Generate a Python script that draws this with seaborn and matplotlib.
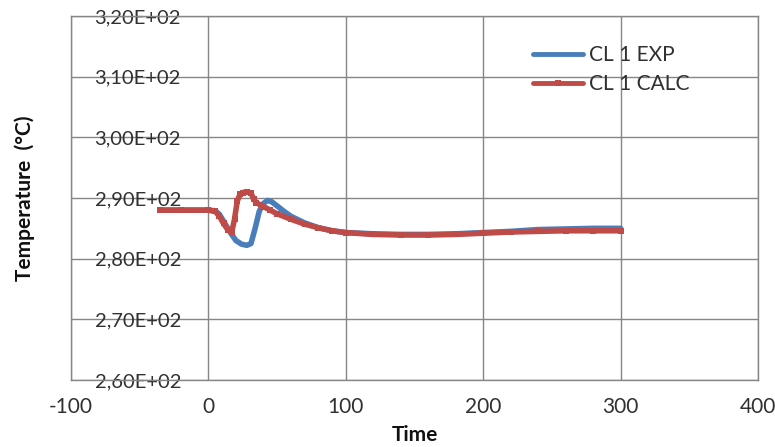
import matplotlib
matplotlib.use("Agg")
import matplotlib.pyplot as plt
import seaborn as sns
import pandas as pd
from matplotlib.ticker import FuncFormatter, MultipleLocator
from matplotlib.lines import Line2D

exp_t = [-35, -20, 0, 5, 8, 12, 16, 20, 24, 28, 31, 34, 37, 40, 43, 46, 50, 55, 60,
         70, 80, 90, 100, 120, 140, 160, 180, 200, 220, 240, 260, 280, 300]
exp_v = [288.0, 288.0, 288.0, 287.9, 287.3, 285.8, 284.3, 283.0, 282.4, 282.2, 282.5,
         285.0, 287.8, 289.1, 289.6, 289.4, 288.7, 287.8, 287.0, 285.9, 285.1, 284.6,
         284.3, 284.1, 284.0, 284.0, 284.1, 284.3, 284.5, 284.8, 284.9, 285.0, 285.0]

calc_t = [-35, -20, 0, 5, 8, 11, 14, 17, 19, 21, 23, 25, 28, 31, 33, 35, 40, 45, 50,
          60, 70, 80, 90, 100, 120, 140, 160, 180, 200, 220, 240, 260, 280, 300]
calc_v = [288.0, 288.0, 288.0, 287.8, 287.0, 285.8, 284.8, 284.4, 286.5, 289.5, 290.6,
          290.9, 291.0, 290.8, 289.8, 289.2, 288.6, 288.0, 287.4, 286.5, 285.7, 285.1,
          284.6, 284.3, 284.0, 283.9, 283.9, 284.0, 284.2, 284.4, 284.5, 284.6, 284.6, 284.6]

series_names = ["CL 1 EXP", "CL 1 CALC"]
colors = ["#4A7EBB", "#BE4B48"]

sns.set_style("white")
plt.rcParams['font.family'] = ['Lato', 'DejaVu Sans']
plt.rcParams['axes.unicode_minus'] = False

df_exp = pd.DataFrame({"Time": exp_t, "T": exp_v})
df_calc = pd.DataFrame({"Time": calc_t, "T": calc_v})

fig = plt.figure(figsize=(7.75, 4.47), dpi=100)
ax = fig.add_axes([0.0916, 0.150, 0.8865, 0.814])

sns.lineplot(data=df_exp, x="Time", y="T", ax=ax, color=colors[0], linewidth=4,
             legend=False, zorder=3)
sns.lineplot(data=df_calc, x="Time", y="T", ax=ax, color=colors[1], linewidth=4,
             marker="s", markersize=4, markeredgewidth=0, legend=False, zorder=4)

ax.set_xlim(-100, 400)
ax.set_ylim(260, 320)
ax.xaxis.set_major_locator(MultipleLocator(100))
ax.yaxis.set_major_locator(MultipleLocator(10))
ax.yaxis.set_major_formatter(FuncFormatter(lambda v, p: f"{v:.2E}".replace('.', ',')))

gc = "#868686"
ax.grid(True, color=gc, linewidth=1)
for s in ax.spines.values():
    s.set_color(gc)
    s.set_linewidth(1)
ax.set_axisbelow(True)

tc = "#303030"
ax.tick_params(axis='y', length=0, pad=-17, labelsize=14.5, labelcolor=tc)
for lab in ax.get_yticklabels():
    lab.set_horizontalalignment('left')
ax.tick_params(axis='x', length=0, pad=12, labelsize=15, labelcolor=tc)

ax.set_xlabel("Time", fontsize=15, fontweight='bold', labelpad=6, color="#111111")
ax.set_ylabel("Temperature  (°C)", fontsize=15, fontweight='bold', labelpad=26,
              color="#111111")

handles = [Line2D([], [], color=colors[0], linewidth=3.5),
           Line2D([], [], color=colors[1], linewidth=3.5, marker='s', markersize=5,
                  markeredgewidth=0)]
leg = ax.legend(handles, series_names, loc='upper left', bbox_to_anchor=(0.672, 0.921),
                frameon=False, fontsize=15, handlelength=2.4, handletextpad=0.3,
                labelspacing=0.45, borderpad=0, borderaxespad=0)
for t in leg.get_texts():
    t.set_color(tc)

fig.savefig("out.png", dpi=100)
